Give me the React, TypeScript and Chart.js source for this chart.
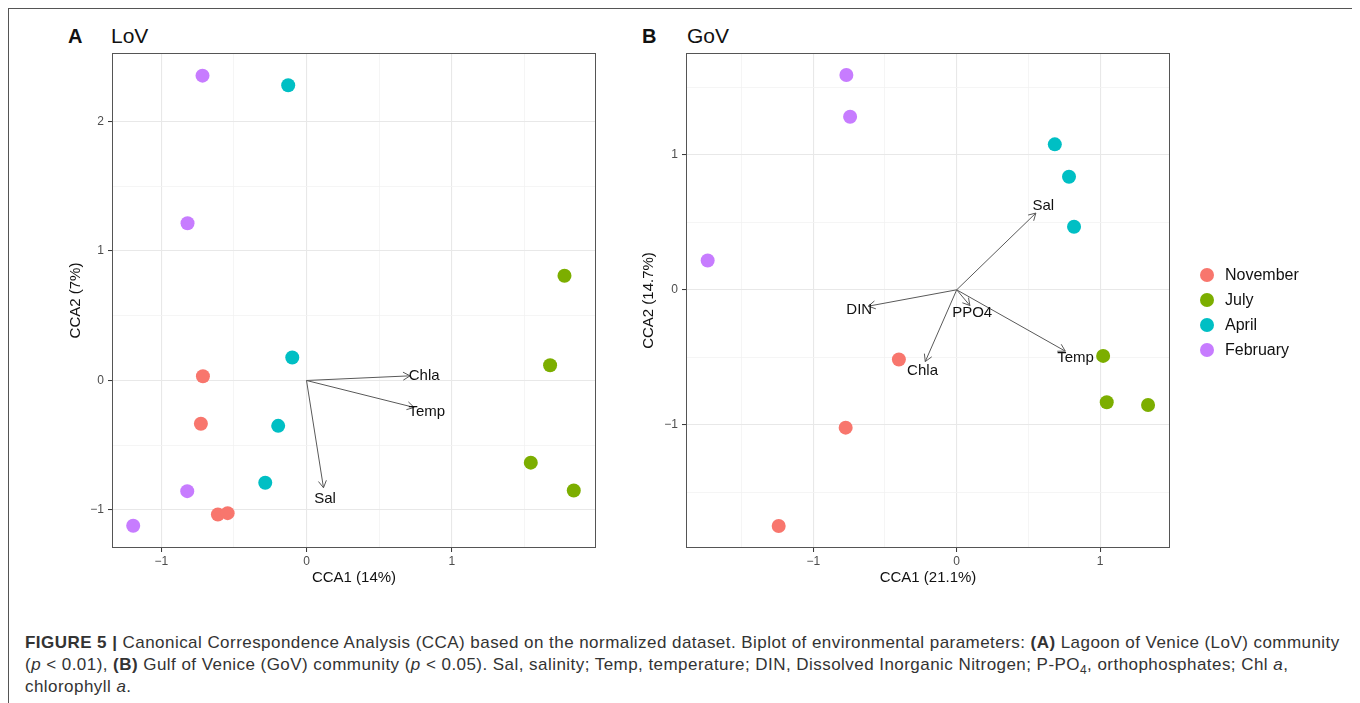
import React, { useEffect, useRef } from 'react';
import { Chart, registerables } from 'chart.js';

Chart.register(...registerables);

// ---------- data ----------
const months = ['November', 'July', 'April', 'February'];
const monthColors = ['#F8766D', '#7CAE00', '#00BFC4', '#C77CFF'];

// Panel A (LoV)
const lovNovX = [-0.713, -0.727, -0.610, -0.543];
const lovNovY = [0.033, -0.334, -1.034, -1.024];
const lovJulX = [1.776, 1.677, 1.544, 1.840];
const lovJulY = [0.808, 0.118, -0.634, -0.849];
const lovAprX = [-0.126, -0.098, -0.195, -0.284];
const lovAprY = [2.279, 0.177, -0.350, -0.789];
const lovFebX = [-0.716, -0.819, -0.821, -1.193];
const lovFebY = [2.353, 1.214, -0.854, -1.121];

const lovEnvNames = ['Chla', 'Temp', 'Sal'];
const lovEnvX = [0.713, 0.741, 0.117];
const lovEnvY = [0.036, -0.208, -0.828];
const lovEnvLabelX = [0.81, 0.828, 0.128];
const lovEnvLabelY = [0.039, -0.239, -0.913];

const lovXTicks = [-1, -0.5, 0, 0.5, 1, 1.5];
const lovYTicks = [-1, -0.5, 0, 0.5, 1, 1.5, 2];
const lovXRange = [-1.339, 1.993];
const lovYRange = [-1.293, 2.528];

// Panel B (GoV)
const govNovX = [-0.403, -0.774, -1.241];
const govNovY = [-0.516, -1.020, -1.748];
const govJulX = [1.021, 1.046, 1.334];
const govJulY = [-0.489, -0.832, -0.852];
const govAprX = [0.684, 0.783, 0.818];
const govAprY = [1.077, 0.837, 0.467];
const govFebX = [-0.769, -0.743, -1.736];
const govFebY = [1.590, 1.281, 0.217];

const govEnvNames = ['Sal', 'DIN', 'PPO4', 'Chla', 'Temp'];
const govEnvX = [0.552, -0.616, 0.092, -0.219, 0.757];
const govEnvY = [0.568, -0.121, -0.116, -0.531, -0.454];
const govEnvLabelX = [0.604, -0.679, 0.108, -0.238, 0.828];
const govEnvLabelY = [0.622, -0.146, -0.173, -0.598, -0.506];

const govXTicks = [-1.5, -1, -0.5, 0, 0.5, 1];
const govYTicks = [-1.5, -1, -0.5, 0, 0.5, 1, 1.5];
const govXRange = [-1.887, 1.487];
const govYRange = [-1.911, 1.753];

// ---------- style ----------
const FONT = '"Liberation Sans", Arial, Helvetica, sans-serif';
const ARROW_COLOR = '#595959';
const BORDER_COLOR = '#555555';

Chart.defaults.font.family = FONT;

const isMajor = (v: number) => Math.abs(v - Math.round(v)) < 1e-9;
const fmt = (v: number) => (v < 0 ? '\u2212' + Math.abs(v) : String(v));

function zip(xs: number[], ys: number[]) {
  return xs.map((x, i) => ({ x, y: ys[i] }));
}

function axis(
  ticks: number[],
  range: number[],
  title: string,
  titlePad: any,
  fit: (s: any) => void,
  tickPad: number
) {
  return {
    type: 'linear',
    min: range[0],
    max: range[1],
    afterBuildTicks: (s: any) => {
      s.ticks = ticks.map((v) => ({ value: v }));
    },
    afterFit: fit,
    ticks: {
      autoSkip: false,
      maxRotation: 0,
      color: '#4D4D4D',
      font: { size: 12, family: FONT },
      padding: tickPad,
      callback: (v: any) => (isMajor(Number(v)) ? fmt(Number(v)) : ''),
    },
    grid: {
      color: (c: any) => (c.tick && isMajor(c.tick.value) ? '#E8E8E8' : '#F2F2F2'),
      lineWidth: (c: any) => (c.tick && isMajor(c.tick.value) ? 1.1 : 0.8),
      tickLength: 4,
      tickColor: (c: any) => (c.tick && isMajor(c.tick.value) ? '#333333' : 'rgba(0,0,0,0)'),
      tickWidth: 1,
    },
    border: { display: false },
    title: {
      display: true,
      text: title,
      color: '#111',
      font: { size: 15, family: FONT },
      padding: titlePad,
    },
  };
}

const biplotPlugin = {
  id: 'biplot',
  afterDatasetsDraw(chart: any, _args: any, opts: any) {
    const { ctx, chartArea: a, scales } = chart;
    const x = scales.x;
    const y = scales.y;
    ctx.save();
    const x0 = x.getPixelForValue(0);
    const y0 = y.getPixelForValue(0);
    ctx.strokeStyle = ARROW_COLOR;
    ctx.lineWidth = 1;
    opts.ex.forEach((vx: number, i: number) => {
      const px = x.getPixelForValue(vx);
      const py = y.getPixelForValue(opts.ey[i]);
      const ang = Math.atan2(py - y0, px - x0);
      const L = 8;
      const phi = Math.PI / 6;
      ctx.beginPath();
      ctx.moveTo(px - L * Math.cos(ang - phi), py - L * Math.sin(ang - phi));
      ctx.lineTo(px, py);
      ctx.lineTo(px - L * Math.cos(ang + phi), py - L * Math.sin(ang + phi));
      ctx.stroke();
    });
    ctx.fillStyle = '#111';
    ctx.font = '15px ' + FONT;
    ctx.textAlign = 'center';
    ctx.textBaseline = 'middle';
    opts.names.forEach((n: string, i: number) => {
      ctx.fillText(n, x.getPixelForValue(opts.lx[i]), y.getPixelForValue(opts.ly[i]));
    });
    ctx.strokeStyle = BORDER_COLOR;
    ctx.lineWidth = 1;
    ctx.strokeRect(a.left + 0.5, a.top + 0.5, a.right - a.left - 1, a.bottom - a.top - 1);
    ctx.restore();
  },
};

const legendPlugin = {
  id: 'sideLegend',
  afterDraw(chart: any, _args: any, opts: any) {
    if (!opts || !opts.show) return;
    const { ctx, chartArea: a } = chart;
    ctx.save();
    const cx = a.right + 37;
    const spacing = 25;
    const startY = (a.top + a.bottom) / 2 + 12 - (spacing * (months.length - 1)) / 2;
    ctx.font = '16px ' + FONT;
    ctx.textAlign = 'left';
    ctx.textBaseline = 'middle';
    months.forEach((m, i) => {
      const yy = startY + i * spacing;
      ctx.fillStyle = monthColors[i];
      ctx.beginPath();
      ctx.arc(cx, yy, 7, 0, Math.PI * 2);
      ctx.fill();
      ctx.fillStyle = '#111';
      ctx.fillText(m, cx + 18, yy + 1);
    });
    ctx.restore();
  },
};

function makeChart(
  canvas: HTMLCanvasElement,
  pts: { x: number[]; y: number[] }[],
  env: { names: string[]; ex: number[]; ey: number[]; lx: number[]; ly: number[] },
  xAxis: any,
  yAxis: any,
  padding: any,
  showLegend: boolean
) {
  const arrowSets = env.ex.map((vx, i) => ({
    type: 'scatter',
    label: env.names[i],
    data: [
      { x: 0, y: 0 },
      { x: vx, y: env.ey[i] },
    ],
    showLine: true,
    borderColor: ARROW_COLOR,
    borderWidth: 1,
    pointRadius: 0,
    fill: false,
    order: 0,
  }));
  const pointSets = pts.map((p, i) => ({
    type: 'scatter',
    label: months[i],
    data: zip(p.x, p.y),
    backgroundColor: monthColors[i],
    borderWidth: 0,
    pointRadius: 7,
    order: 1,
  }));
  return new Chart(canvas, {
    type: 'scatter',
    data: { datasets: [...arrowSets, ...pointSets] as any },
    options: {
      responsive: false,
      animation: false,
      devicePixelRatio: 1,
      events: [],
      layout: { padding },
      scales: { x: xAxis, y: yAxis },
      plugins: {
        legend: { display: false },
        tooltip: { enabled: false },
        biplot: env,
        sideLegend: { show: showLegend },
      } as any,
    },
    plugins: [biplotPlugin, legendPlugin],
  } as any);
}

export default function App() {
  const refA = useRef<HTMLCanvasElement>(null);
  const refB = useRef<HTMLCanvasElement>(null);

  useEffect(() => {
    const a = makeChart(
      refA.current!,
      [
        { x: lovNovX, y: lovNovY },
        { x: lovJulX, y: lovJulY },
        { x: lovAprX, y: lovAprY },
        { x: lovFebX, y: lovFebY },
      ],
      { names: lovEnvNames, ex: lovEnvX, ey: lovEnvY, lx: lovEnvLabelX, ly: lovEnvLabelY },
      axis(lovXTicks, lovXRange, 'CCA1 (14%)', { top: 0, bottom: 13 }, (s) => { s.height = 52; }, 2),
      axis(lovYTicks, lovYRange, 'CCA2 (7%)', { top: 47, bottom: 0 }, (s) => { s.width = 92; }, 4),
      { left: 0, top: 33, right: 14, bottom: 0 },
      false
    );
    const b = makeChart(
      refB.current!,
      [
        { x: govNovX, y: govNovY },
        { x: govJulX, y: govJulY },
        { x: govAprX, y: govAprY },
        { x: govFebX, y: govFebY },
      ],
      { names: govEnvNames, ex: govEnvX, ey: govEnvY, lx: govEnvLabelX, ly: govEnvLabelY },
      axis(govXTicks, govXRange, 'CCA1 (21.1%)', { top: 0, bottom: 13 }, (s) => { s.height = 52; }, 2),
      axis(govYTicks, govYRange, 'CCA2 (14.7%)', { top: 30, bottom: 0 }, (s) => { s.width = 76; }, 4),
      { left: 0, top: 33, right: 180, bottom: 0 },
      true
    );
    return () => {
      a.destroy();
      b.destroy();
    };
  }, []);

  const abs = (left: number, top: number): React.CSSProperties => ({
    position: 'absolute',
    left,
    top,
    whiteSpace: 'nowrap',
  });

  return (
    <div
      style={{
        position: 'relative',
        width: 1346,
        height: 694,
        borderTop: '1px solid #555',
        borderLeft: '1px solid #555',
        borderRight: '1px solid #555',
        background: '#fff',
        fontFamily: FONT,
        overflow: 'hidden',
      }}
    >
      <div style={{ ...abs(59, 17), fontSize: 20, lineHeight: '20px', fontWeight: 'bold', color: '#111' }}>A</div>
      <div style={{ ...abs(102, 16), fontSize: 21, lineHeight: '21px', color: '#111' }}>LoV</div>
      <div style={{ ...abs(633, 17), fontSize: 20, lineHeight: '20px', fontWeight: 'bold', color: '#111' }}>B</div>
      <div style={{ ...abs(678, 16), fontSize: 21, lineHeight: '21px', color: '#111' }}>GoV</div>

      <canvas ref={refA} width={590} height={580} style={{ position: 'absolute', left: 11, top: 11, width: 590, height: 580 }} />
      <canvas ref={refB} width={740} height={580} style={{ position: 'absolute', left: 601, top: 11, width: 740, height: 580 }} />

      <div style={{ ...abs(16, 623), fontSize: 17, lineHeight: '22px', letterSpacing: '0.45px', color: '#333' }}>
        <b>FIGURE 5 |</b> Canonical Correspondence Analysis (CCA) based on the normalized dataset. Biplot of environmental parameters: <b>(A)</b> Lagoon of Venice (LoV) community
        <br />
        (<i>p</i> &lt; 0.01), <b>(B)</b> Gulf of Venice (GoV) community (<i>p</i> &lt; 0.05). Sal, salinity; Temp, temperature; DIN, Dissolved Inorganic Nitrogen; P-PO<sub style={{ fontSize: 12, lineHeight: 0 }}>4</sub>, orthophosphates; Chl <i>a</i>,
        <br />
        chlorophyll <i>a</i>.
      </div>
    </div>
  );
}
